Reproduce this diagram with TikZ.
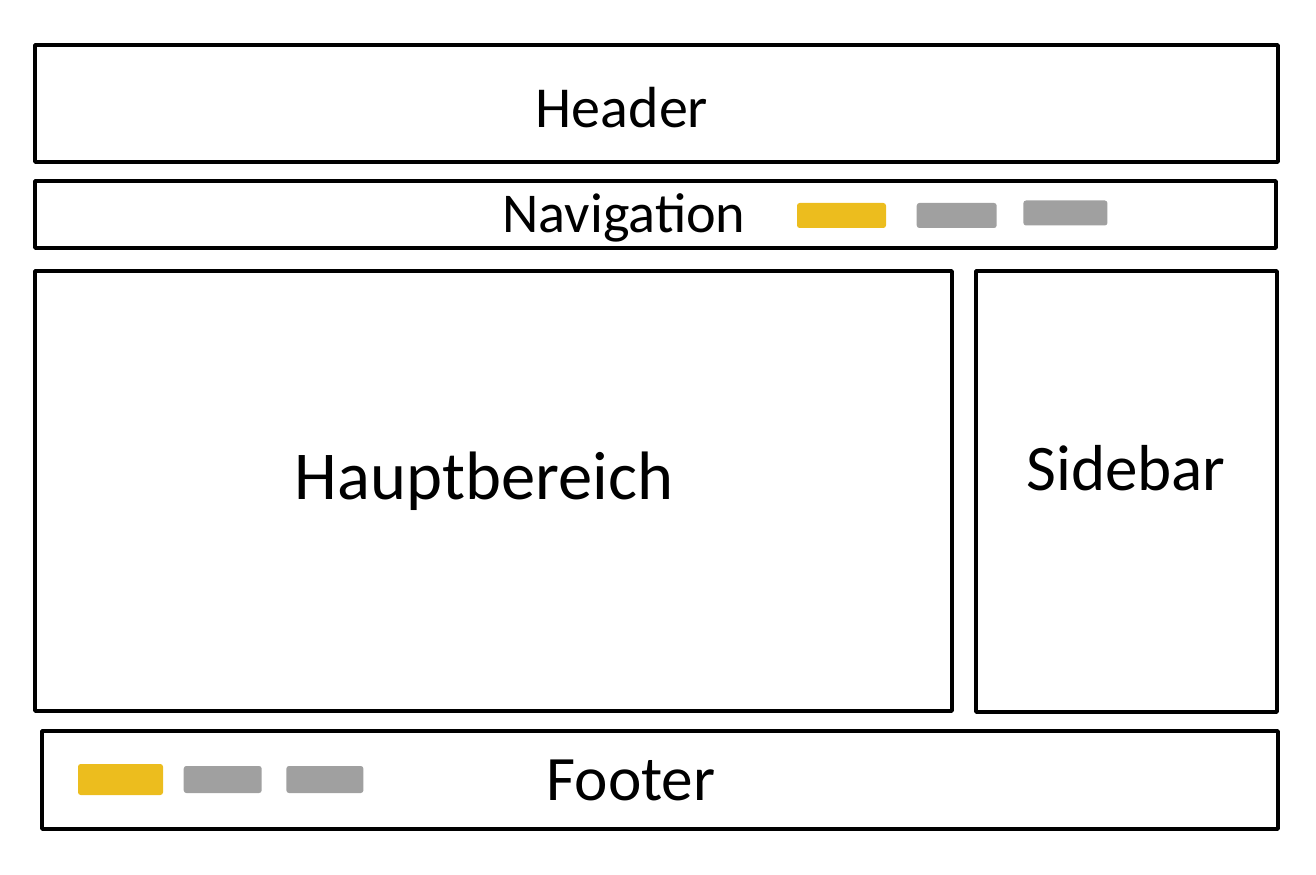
\documentclass[tikz,border=0pt]{standalone}
\usepackage{fontspec}
\setmainfont{Carlito}
\usetikzlibrary{positioning}
\definecolor{barYellow}{HTML}{ECBD1E}
\definecolor{barGray}{HTML}{A0A0A0}
\tikzset{
  %define style for the layout boxes
  frame/.style={
    rectangle,
    draw=black,
    line width=2.1pt,
    line join=round,
    inner sep=0pt,
    outer sep=0pt,
    anchor=north west},
  %define style for the box labels
  lbl/.style={
    text=black,
    inner sep=0pt,
    anchor=base},
  %define style for the small bars
  bar/.style={
    rectangle,
    rounded corners=1.5pt,
    inner sep=0pt,
    minimum height=0.5cm}
}
\begin{document}
\begin{tikzpicture}
\useasboundingbox (0,0) rectangle (26.32,-17.5);
%boxes
\node[frame, minimum width=24.86cm, minimum height=2.34cm] (header) at (0.7,-0.9) {};
\node[frame, minimum width=24.82cm, minimum height=1.34cm,
      below=0.38cm of header.south west, anchor=north west] (nav) {};
\node[frame, minimum width=18.34cm, minimum height=8.8cm,
      below=0.46cm of nav.south west, anchor=north west] (main) {};
\node[frame, minimum width=6.02cm, minimum height=8.82cm,
      right=0.48cm of main.north east, anchor=north west] (sidebar) {};
\node[frame, minimum width=24.72cm, minimum height=1.96cm] (footer) at (0.84,-14.62) {};

%labels
\node[lbl, font=\fontsize{33}{38}\selectfont] (headertext) at (12.44,-2.56) {Header};
\node[lbl, font=\fontsize{32}{36}\selectfont] (navtext) at (12.48,-4.66) {Navigation};
\node[lbl, font=\fontsize{39}{44}\selectfont] (maintext) at (9.68,-10.0) {Hauptbereich};
\node[lbl, font=\fontsize{37}{42}\selectfont] (sidetext) at (22.52,-9.8) {Sidebar};
\node[lbl, font=\fontsize{36}{40}\selectfont] (footertext) at (12.62,-16.0) {Footer};

%bars in the navigation
\node[bar, fill=barYellow, minimum width=1.78cm] (navbar1) at (16.83,-4.31) {};
\node[bar, fill=barGray, minimum width=1.6cm, right=0.6cm of navbar1] (navbar2) {};
\node[bar, fill=barGray, minimum width=1.68cm, right=0.52cm of navbar2, yshift=0.05cm] (navbar3) {};

%bars in the footer
\node[bar, fill=barYellow, minimum width=1.7cm, minimum height=0.62cm] (footbar1) at (2.41,-15.59) {};
\node[bar, fill=barGray, minimum width=1.56cm, minimum height=0.54cm, right=0.4cm of footbar1] (footbar2) {};
\node[bar, fill=barGray, minimum width=1.54cm, minimum height=0.54cm, right=0.48cm of footbar2] (footbar3) {};
\end{tikzpicture}
\end{document}
